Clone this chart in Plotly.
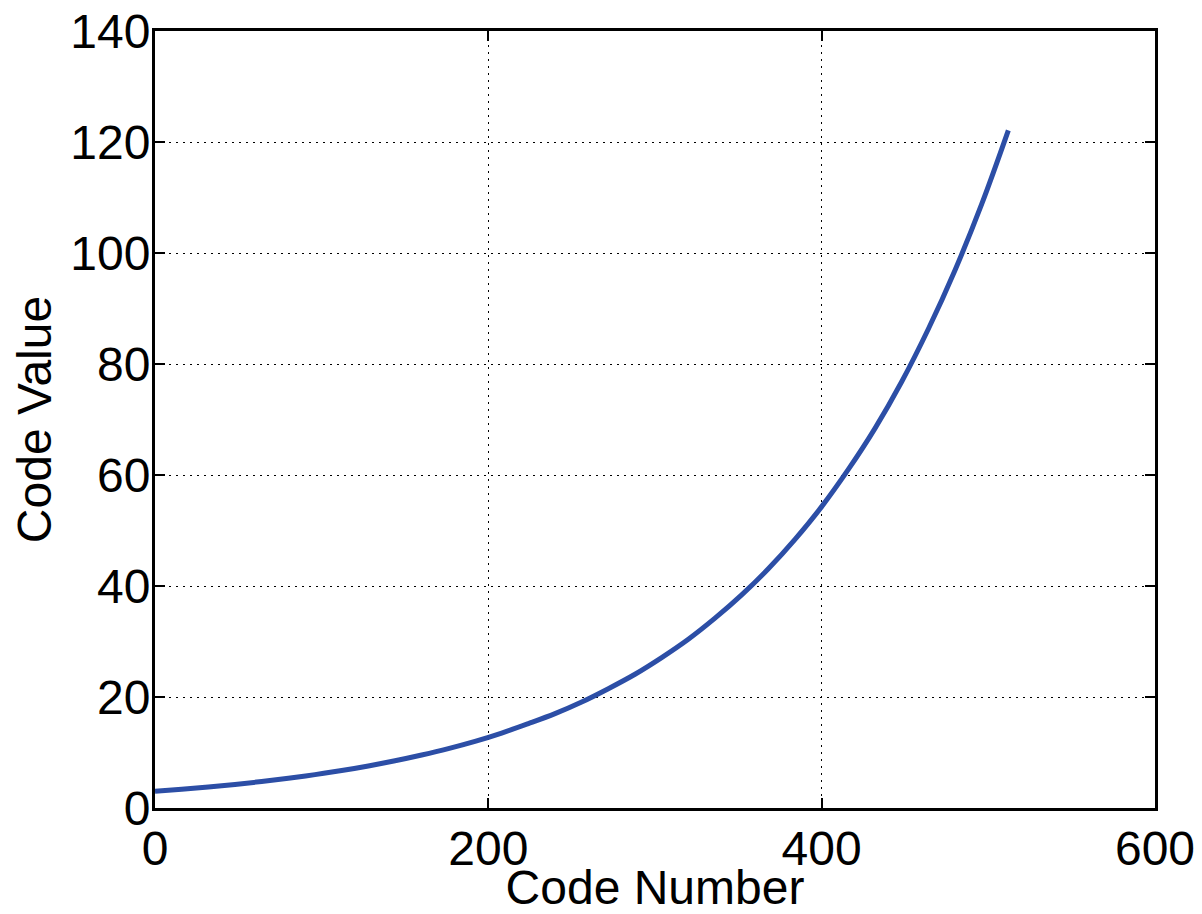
import plotly.graph_objects as go

code_number = [0, 16, 32, 48, 64, 80, 96, 112, 128, 144, 160, 176, 192, 208, 224, 240,
               256, 272, 288, 304, 320, 336, 352, 368, 384, 400, 416, 432, 448, 464,
               480, 496, 512]
code_value = [3.00, 3.37, 3.78, 4.25, 4.77, 5.35, 6.01, 6.75, 7.58, 8.51, 9.55, 10.7,
              12.0, 13.5, 15.2, 17.0, 19.1, 21.5, 24.1, 27.1, 30.4, 34.2, 38.4, 43.1,
              48.4, 54.3, 61.0, 68.4, 76.8, 86.3, 96.9, 108.8, 122.1]

x_ticks = [0, 200, 400, 600]
y_ticks = [0, 20, 40, 60, 80, 100, 120, 140]

FONT = "Liberation Sans, Arial, sans-serif"

fig = go.Figure()
fig.add_trace(go.Scatter(
    x=code_number, y=code_value, mode="lines",
    line=dict(color="#2c4ea6", width=5, shape="spline"),
    showlegend=False,
))

axis_common = dict(
    showline=True, linecolor="black", linewidth=3, mirror="ticks",
    ticks="inside", ticklen=10, tickwidth=2, tickcolor="black",
    showgrid=True, gridcolor="black", gridwidth=1, griddash="2px,5px",
    zeroline=False, automargin=False, ticklabeloverflow="allow",
    tickfont=dict(family=FONT, size=48, color="black"),
)

fig.update_layout(
    width=1194, height=906,
    margin=dict(l=147, r=47, t=23, b=106, autoexpand=False),
    paper_bgcolor="white", plot_bgcolor="white",
    font=dict(family=FONT, color="black"),
    xaxis=dict(range=[0, 600], tickvals=x_ticks, ticklabelstandoff=-4,
               title=dict(text="Code Number", font=dict(family=FONT, size=48), standoff=8),
               **axis_common),
    yaxis=dict(range=[0, 140], tickvals=y_ticks, ticklabelstandoff=-8,
               title=dict(text="Code Value", font=dict(family=FONT, size=48), standoff=18),
               **axis_common),
)

fig.write_html("out.html")
